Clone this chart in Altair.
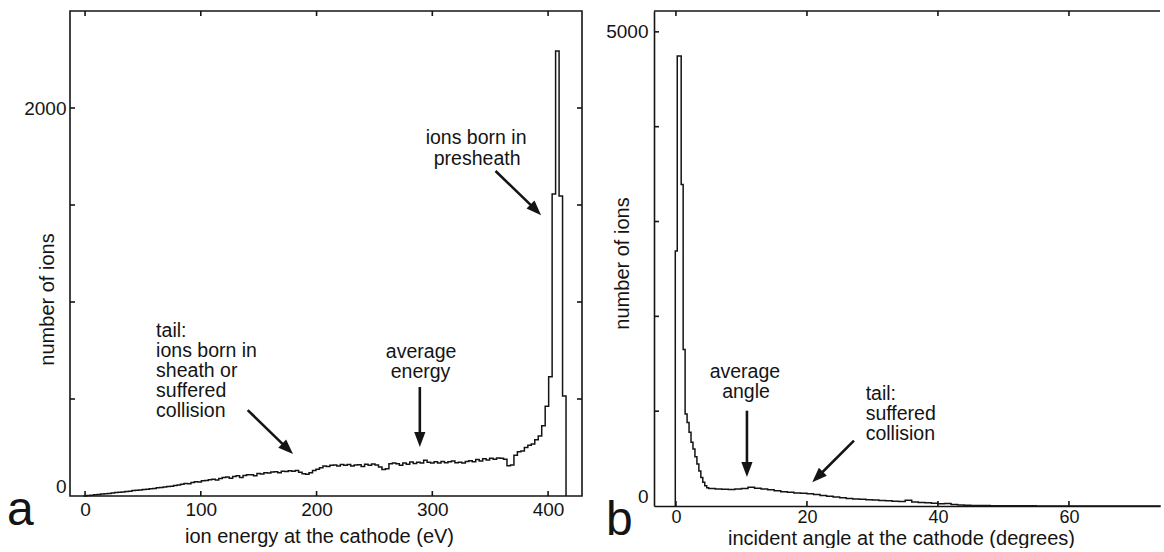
import altair as alt
import pandas as pd

FONT = "Liberation Sans"
INK = "#141414"

# ---------------- (a) ion energy at the cathode ----------------
energy_bin_start = -1.5   # eV, left edge of the first bin
energy_bin_width = 3.0    # eV
energy_counts = [
    0, 2, 4, 6, 8, 10, 11, 13, 15, 18,
    19, 21, 23, 25, 28, 30, 31, 33, 35, 37,
    39, 42, 44, 46, 49, 50, 54, 57, 61, 65,
    63, 70, 74, 72, 78, 80, 84, 86, 82, 90,
    96, 98, 92, 100, 104, 96, 106, 110, 110, 104,
    116, 114, 120, 118, 124, 125, 120, 128, 126, 130,
    128, 132, 122, 115, 112, 120, 132, 138, 145, 155,
    152, 158, 160, 155, 162, 158, 163, 154, 160, 161,
    152, 164, 158, 165, 160, 150, 137, 140, 166, 170,
    166, 158, 170, 164, 175, 168, 174, 170, 184, 174,
    170, 176, 170, 178, 172, 176, 180, 172, 174, 170,
    178, 182, 176, 188, 180, 192, 186, 194, 190, 196,
    194, 190, 156, 160, 210, 228, 232, 250, 262, 268,
    290, 309, 362, 463, 615, 1557, 2294, 1546, 515,
]
energy_axis_ticks = [0, 100, 200, 300, 400]
energy_count_ticks = [500, 1000, 1500, 2000]
energy_count_labels = [0, 2000]

# ---------------- (b) incident angle at the cathode ----------------
angle_fine_start = -0.1   # degrees
angle_fine_width = 0.3
angle_fine_counts = [
    2690, 4745, 4745, 3390, 1650, 970, 880, 777, 672, 601,
    520, 443, 370, 300, 250, 214, 192,
]
angle_coarse_start = 5.0
angle_coarse_width = 1.0
angle_coarse_counts = [
    184, 180, 176, 174, 178, 184, 198, 188, 180, 172,
    162, 150, 146, 138, 134, 128, 122, 112, 104, 94,
    88, 80, 74, 70, 66, 62, 58, 55, 50, 48,
    60, 42, 38, 34, 30, 24, 26, 16, 10, 8,
    6, 5, 4, 3, 3, 2, 2, 2, 2, 2,
    1, 1, 1, 1, 1, 1, 1, 1, 1, 1,
    0, 0, 0, 0, 0, 0, 0, 0, 0,
]
angle_axis_ticks = [0, 20, 40, 60]
angle_count_ticks = [1000, 2000, 3000, 4000, 5000]
angle_count_labels = [0, 5000]

# ---------------- annotations (data units) ----------------
energy_note_text = ["ions born in", "presheath",
                    "tail:", "ions born in", "sheath or", "suffered", "collision",
                    "average", "energy"]
energy_note_x = [337.8, 338.7, 61.4, 61.4, 61.4, 61.4, 61.4, 290.3, 289.8]
energy_note_y = [1845, 1737, 850, 747, 644, 541, 438, 742, 639]
energy_note_align = ["center", "center", "left", "left", "left", "left", "left",
                     "center", "center"]
# arrow tail (x0, y0), arrow-head centre (hx, hy), head rotation (deg, clockwise)
energy_arrow_x0 = [354.6, 140.5, 289.2]
energy_arrow_y0 = [1675, 443, 562]
energy_arrow_hx = [389.4, 175.0, 289.2]
energy_arrow_hy = [1475, 243, 291]
energy_arrow_rot = [135, 134, 180]

angle_note_text = ["average", "angle", "tail:", "suffered", "collision"]
angle_note_x = [10.53, 10.7, 28.96, 28.96, 28.96]
angle_note_y = [1413, 1203, 1181, 970, 760]
angle_note_align = ["center", "center", "left", "left", "left"]
angle_arrow_x0 = [10.84, 27.18]
angle_arrow_y0 = [1005, 689]
angle_arrow_hx = [10.84, 21.62]
angle_arrow_hy = [385, 306]
angle_arrow_rot = [180, 225]

ARROW_HEAD = "M0,-1L0.75,1L-0.75,1Z"


def step_rows(start, width, counts):
    return [{"x": start + width * i, "n": c} for i, c in enumerate(counts)]


rows_a = step_rows(energy_bin_start, energy_bin_width, energy_counts)
rows_a.append({"x": energy_bin_start + energy_bin_width * len(energy_counts), "n": 0})

rows_b = [{"x": angle_fine_start, "n": 0}]
rows_b += step_rows(angle_fine_start, angle_fine_width, angle_fine_counts)
rows_b += step_rows(angle_coarse_start, angle_coarse_width, angle_coarse_counts)
rows_b.append({"x": angle_coarse_start + angle_coarse_width * len(angle_coarse_counts), "n": 0})

for rows in (rows_a, rows_b):
    for i, r in enumerate(rows):
        r["i"] = i


def panel(rows, xdom, ydom, w, h, xticks, yticks, ylabels, xtitle, ytitle,
          xtitle_pos, ytitle_pos, xlabel_style, ylabel_pad, notes, arrows,
          letter, letter_x, right_ticks, framed):
    xs = alt.Scale(domain=xdom, nice=False, zero=False)
    ys = alt.Scale(domain=ydom, nice=False, zero=False)

    # one axis definition shared by every layer so the layers merge cleanly
    x_axis = alt.Axis(
        values=xticks, format="d", ticks=False, grid=False,
        domain=not framed, domainColor=INK, domainWidth=1.6,
        labelFont=FONT, labelFontSize=xlabel_style[0], labelColor=INK,
        labelPadding=xlabel_style[1], labelFlush=False, labelOverlap=False,
        title=xtitle, titleFont=FONT, titleFontSize=20, titleFontWeight="normal",
        titleColor=INK, titleX=xtitle_pos[0], titleY=xtitle_pos[1],
        titleAlign="center", titleBaseline="alphabetic",
    )
    y_axis = alt.Axis(
        values=ylabels, format="d", ticks=False, grid=False,
        domain=not framed, domainColor=INK, domainWidth=1.6,
        labelFont=FONT, labelFontSize=19, labelColor=INK, labelPadding=ylabel_pad,
        labelFlush=False, labelOverlap=False,
        labelBaseline={"condition": {"test": "datum.value === 0", "value": "bottom"},
                       "value": "middle"},
        title=ytitle, titleFont=FONT, titleFontSize=20, titleFontWeight="normal",
        titleColor=INK, titleX=ytitle_pos[0], titleY=ytitle_pos[1], titleAngle=270,
        titleAlign="center", titleBaseline="middle",
    )

    def X(field):
        return alt.X(field, scale=xs, axis=x_axis)

    def Y(field):
        return alt.Y(field, scale=ys, axis=y_axis)

    hist = alt.Chart(pd.DataFrame(rows)).mark_line(
        interpolate="step-after", color=INK, strokeWidth=1.5
    ).encode(x=X("x:Q"), y=Y("n:Q"), order=alt.Order("i:Q"))

    tick = dict(color=INK, strokeWidth=1.6)
    xt = pd.DataFrame({"v": xticks})
    yt = pd.DataFrame({"v": yticks})
    layers = [
        hist,
        alt.Chart(xt).mark_rule(**tick).encode(
            x=X("v:Q"), y=alt.value(h), y2=alt.value(h - 5)),
        alt.Chart(xt).mark_rule(**tick).encode(
            x=X("v:Q"), y=alt.value(0), y2=alt.value(5)),
        alt.Chart(yt).mark_rule(**tick).encode(
            y=Y("v:Q"), x=alt.value(0), x2=alt.value(5)),
    ]
    if right_ticks:
        layers.append(alt.Chart(yt).mark_rule(**tick).encode(
            y=Y("v:Q"), x=alt.value(w), x2=alt.value(w - 5)))
    if not framed:
        # top edge of the open frame
        layers.append(alt.Chart(pd.DataFrame({"v": [0]})).mark_rule(
            color=INK, strokeWidth=1.6).encode(
            x=alt.value(0), x2=alt.value(w), y=alt.value(0)))

    nd = pd.DataFrame(notes)
    for al in ("left", "center"):
        layers.append(alt.Chart(nd).transform_filter(
            alt.datum.align == al
        ).mark_text(font=FONT, fontSize=19.5, color=INK, align=al, baseline="middle").encode(
            x=X("x:Q"), y=Y("y:Q"), text="text:N",
        ))

    ad = pd.DataFrame(arrows)
    layers.append(alt.Chart(ad).mark_rule(color=INK, strokeWidth=2.6).encode(
        x=X("x0:Q"), y=Y("y0:Q"), x2="hx:Q", y2="hy:Q"))
    layers.append(alt.Chart(ad).mark_point(
        shape=ARROW_HEAD, filled=True, size=225, color=INK, opacity=1, strokeWidth=0
    ).encode(x=X("hx:Q"), y=Y("hy:Q"), angle=alt.Angle("rot:Q", scale=None)))

    layers.append(alt.Chart(pd.DataFrame({"t": [letter]})).mark_text(
        font=FONT, fontSize=48, color=INK, align="left", baseline="alphabetic"
    ).encode(text="t:N", x=alt.value(letter_x), y=alt.value(h + 29)))

    chart = alt.layer(*layers).properties(width=w, height=h)
    if framed:
        chart = chart.properties(view=alt.ViewBackground(stroke=INK, strokeWidth=1.6))
    return chart


def notes_table(text, x, y, align):
    return [{"text": t, "x": a, "y": b, "align": c} for t, a, b, c in zip(text, x, y, align)]


def arrows_table(x0, y0, hx, hy, rot):
    return [{"x0": a, "y0": b, "hx": c, "hy": d, "rot": e}
            for a, b, c, d, e in zip(x0, y0, hx, hy, rot)]


W_A, H_A = 512, 485
W_B, H_B = 506, 495

panel_a = panel(
    rows_a, [-13, 429.3], [0, 2500], W_A, H_A,
    energy_axis_ticks, energy_count_ticks, energy_count_labels,
    "ion energy at the cathode (eV)", "number of ions",
    (249, 46), (-23, 288), (19, 4), 4,
    notes_table(energy_note_text, energy_note_x, energy_note_y, energy_note_align),
    arrows_table(energy_arrow_x0, energy_arrow_y0, energy_arrow_hx, energy_arrow_hy,
                 energy_arrow_rot),
    "a", -63, True, True,
)

panel_b = panel(
    rows_b, [-3.35, 73.9], [0, 5220], W_B, H_B,
    angle_axis_ticks, angle_count_ticks, angle_count_labels,
    "incident angle at the cathode (degrees)", "number of ions",
    (247, 38), (-32, 252), (18, 2), 6,
    notes_table(angle_note_text, angle_note_x, angle_note_y, angle_note_align),
    arrows_table(angle_arrow_x0, angle_arrow_y0, angle_arrow_hx, angle_arrow_hy,
                 angle_arrow_rot),
    "b", -48, False, False,
)

chart = alt.hconcat(panel_a, panel_b, spacing=72, bounds="flush").properties(
    padding={"left": 6, "top": 9, "right": 0, "bottom": 0},
    background="white",
).configure_view(stroke=None)

chart.save("out.html", embed_options={"renderer": "svg", "actions": False})
